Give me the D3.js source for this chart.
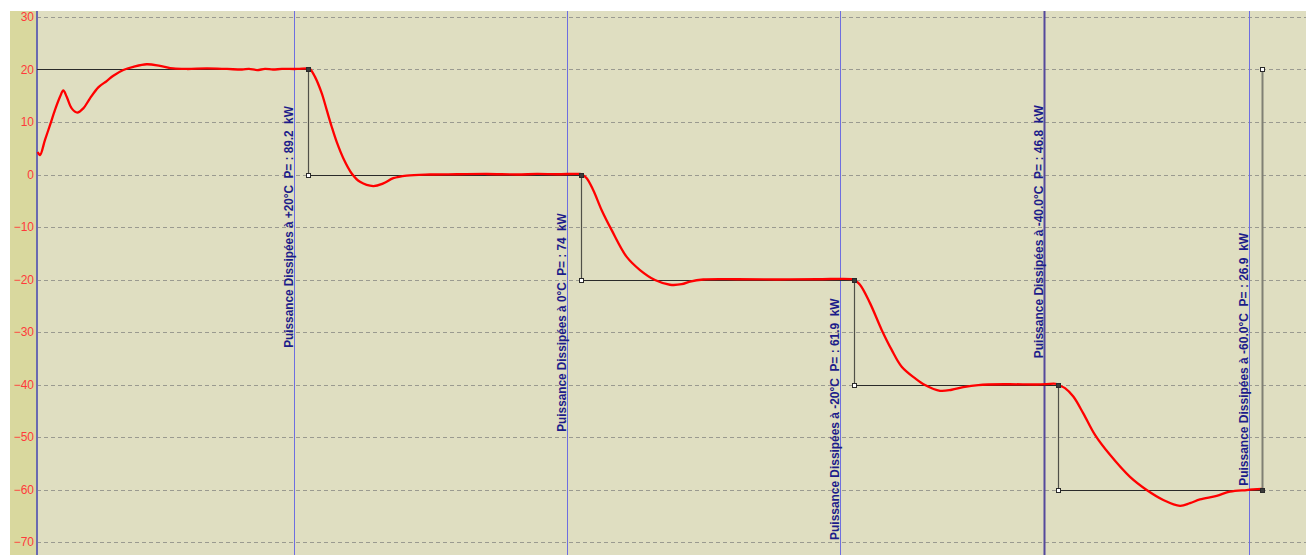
<!DOCTYPE html>
<html><head><meta charset="utf-8">
<script src="https://cdn.jsdelivr.net/npm/d3@7"></script>
<style>html,body{margin:0;padding:0;background:#fff;overflow:hidden}</style>
</head><body>
<svg id="c" width="1306" height="555"></svg>
<script>
// ---- data ----
const yTicks = [30, 20, 10, 0, -10, -20, -30, -40, -50, -60, -70];
// measured temperature curve: [time, °C]
const temperature = [
 [0.7,4.3],[3,3.7],[8,6.6],[13,9.4],[18,12.3],[23,14.8],[26.3,16.0],[29.7,14.8],[34.7,12.6],[40.3,11.8],
 [46.3,12.6],[53,14.5],[61.3,16.6],[69.7,17.8],[76.3,18.8],[86.3,19.9],[96.3,20.5],[109.7,21.0],[123,20.7],
 [136.3,20.2],[150,20.1],[170,20.2],[190,20.1],[205,20.0],[212,20.1],[220,19.9],[228,20.1],[236,20.0],
 [245,20.1],[260,20.1],[271,20.2],
 [273,20.1],[278,18.6],[284.7,15.5],[289.7,12.3],[294.7,9.1],[299.7,6.2],[306.3,3.1],[314.7,0.2],[323,-1.4],
 [336.3,-2.2],[346.3,-1.7],[356.3,-0.7],[369.7,-0.2],[393,0],[420,0.05],[450,0.1],[480,0],[500,0.1],
 [520,0.05],[543,0.1],
 [544.7,0.0],[549.7,-0.7],[556.3,-3.0],[564.7,-6.8],[574.7,-10.6],[589.7,-15.7],[603,-18.2],[618,-20.1],
 [633,-21.0],[644.7,-20.9],[653,-20.4],[666.3,-20.0],[700,-19.95],[740,-20.0],[780,-19.95],[816,-19.95],
 [817.3,-20.1],[823,-21.0],[833,-24.5],[844.7,-29.6],[854.7,-33.4],[864.7,-36.6],[878,-38.8],[888,-40.1],
 [903,-41.2],[914.7,-41.0],[926.3,-40.5],[941.3,-40.1],[970,-39.95],[1000,-40],[1020,-39.9],
 [1021.3,-40.1],[1028,-40.7],[1036.3,-42.3],[1046.3,-45.5],[1058,-49.6],[1073,-53.4],[1093,-57.6],
 [1109.7,-60.1],[1126.3,-62.0],[1143,-63.1],[1153,-62.6],[1163,-61.9],[1179.7,-61.2],[1193,-60.4],
 [1209.7,-60.1],[1225,-59.9]
];
// setpoint steps
const stepTimes = [0, 271, 544, 817, 1021, 1225];
const stepLevels = [20, 0, -20, -40, -60];
const stepReturnLevel = 20;
// measurement cursors
const cursorTimes = [257, 530, 803, 1007, 1212];
const cursorLabels = [
 "Puissance Dissipées à +20°C  P= : 89.2  kW",
 "Puissance Dissipées à 0°C  P= : 74  kW",
 "Puissance Dissipées à -20°C  P= : 61.9  kW",
 "Puissance Dissipées à -40.0°C  P= : 46.8  kW",
 "Puissance Dissipées à -60.0°C  P= : 26.9  kW"
];
const cursorLabelAnchor = [-33, -49, -69.6, -35, -59.3];

// ---- chart ----
const svg = d3.select("#c");
const W = 1306, H = 555;
const plotL = 37, plotT = 11, panelL = 10;
const x = d3.scaleLinear().domain([0, 1269]).range([plotL, W]);
const y = d3.scaleLinear().domain([30, -70]).range([17, 542]);

svg.append("rect").attr("x", panelL).attr("y", plotT).attr("width", plotL - panelL).attr("height", H - plotT).attr("fill", "#d9d89e");
svg.append("rect").attr("x", plotL).attr("y", plotT).attr("width", W - plotL).attr("height", H - plotT).attr("fill", "#dfdec1");

// grid
svg.append("g").selectAll("line").data(yTicks).join("line")
  .attr("x1", plotL).attr("x2", W).attr("y1", d => Math.round(y(d)) + 0.5).attr("y2", d => Math.round(y(d)) + 0.5)
  .attr("stroke", "#9a9a90").attr("stroke-dasharray", "4,3").attr("stroke-width", 1);

// y axis labels
const yAxis = d3.axisLeft(y).tickValues(yTicks).tickSize(0).tickPadding(3);
const ga = svg.append("g").attr("transform", `translate(${plotL},0)`).call(yAxis);
ga.select(".domain").remove();
ga.selectAll("text").attr("fill", "#ff3a3a").attr("font-family", "Liberation Sans, Arial, sans-serif").attr("font-size", 12);

// left axis line
svg.append("line").attr("x1", plotL).attr("x2", plotL).attr("y1", plotT).attr("y2", H).attr("stroke", "#6a6ab0").attr("stroke-width", 2);

// cursor lines
svg.append("g").selectAll("line").data(cursorTimes).join("line")
  .attr("x1", d => Math.round(x(d)) + 0.5).attr("x2", d => Math.round(x(d)) + 0.5)
  .attr("y1", plotT).attr("y2", H)
  .attr("stroke", (d, i) => i === 3 ? "#55489c" : "#6e6ee0")
  .attr("stroke-width", (d, i) => i === 3 ? 2 : 1);

// setpoint step lines
const stepG = svg.append("g");
stepLevels.forEach((lv, i) => {
  stepG.append("line").attr("x1", x(stepTimes[i])).attr("x2", x(stepTimes[i + 1]))
    .attr("y1", Math.round(y(lv)) + 0.5).attr("y2", Math.round(y(lv)) + 0.5)
    .attr("stroke", "#2a2a2a").attr("stroke-width", 1);
  if (i > 0) {
    stepG.append("line").attr("x1", Math.round(x(stepTimes[i])) + 0.5).attr("x2", Math.round(x(stepTimes[i])) + 0.5)
      .attr("y1", y(stepLevels[i - 1])).attr("y2", y(lv))
      .attr("stroke", "#505048").attr("stroke-width", 1.2);
  }
});
const last = stepTimes[stepTimes.length - 1];
stepG.append("line").attr("x1", Math.round(x(last)) + 0.5).attr("x2", Math.round(x(last)) + 0.5)
  .attr("y1", y(stepLevels[stepLevels.length - 1])).attr("y2", y(stepReturnLevel))
  .attr("stroke", "#808074").attr("stroke-width", 2);

// red curve
const line = d3.line().x(d => x(d[0])).y(d => y(d[1])).curve(d3.curveCatmullRom.alpha(0.5));
svg.append("path").datum(temperature).attr("d", line).attr("fill", "none")
  .attr("stroke", "#ff0000").attr("stroke-width", 2.3).attr("stroke-linejoin", "round");

// markers
const markers = [];
for (let i = 1; i < stepTimes.length; i++) {
  const t = stepTimes[i];
  const top = i < stepTimes.length - 1 ? stepLevels[i - 1] : stepLevels[stepLevels.length - 1];
  const bot = i < stepTimes.length - 1 ? stepLevels[i] : stepReturnLevel;
  markers.push({t: t, v: top, filled: true});
  markers.push({t: t, v: bot, filled: false});
}
svg.append("g").selectAll("rect").data(markers).join("rect")
  .attr("x", d => Math.round(x(d.t)) - 2).attr("y", d => Math.round(y(d.v)) - 2)
  .attr("fill", d => d.filled ? "#3a3a3a" : "#ffffff")
  .attr("stroke", "#2a2a2a").attr("stroke-width", 1)
  .attr("transform", "translate(0.5,0.5)").attr("width", 4).attr("height", 4);

// cursor labels
svg.append("g").selectAll("text").data(cursorTimes).join("text")
  .attr("transform", (d, i) => `translate(${Math.round(x(d)) - 1},${y(cursorLabelAnchor[i])}) rotate(-90)`)
  .attr("fill", "#1c1c8a").attr("font-family", "Liberation Sans, Arial, sans-serif")
  .attr("font-weight", "bold").attr("font-size", 13.5)
  .attr("textLength", (d, i) => cursorLabels[i].length * 5.75)
  .attr("lengthAdjust", "spacingAndGlyphs")
  .style("white-space", "pre")
  .text((d, i) => cursorLabels[i]);
</script>
</body></html>
